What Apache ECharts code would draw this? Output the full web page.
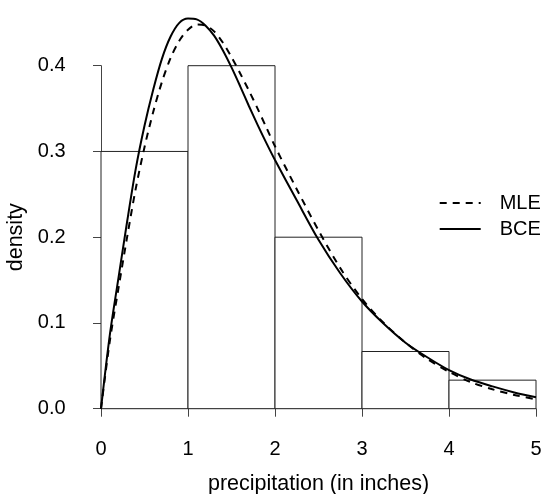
<!DOCTYPE html>
<html>
<head>
<meta charset="utf-8">
<script src="https://cdn.jsdelivr.net/npm/echarts@6/dist/echarts.min.js"></script>
<style>
html,body{margin:0;padding:0;background:#fff;}
#chart{width:544px;height:494px;}
</style>
</head>
<body>
<div id="chart"></div>
<script>
// Histogram bins (left edge, right edge, density)
const binStarts = [0, 1, 2, 3, 4];
const binEnds = [1, 2, 3, 4, 5];
const binDensity = [0.3, 0.4, 0.2, 0.0667, 0.0333];

// Curve sample positions and values
const curveX = [0, 0.1, 0.2, 0.3, 0.4, 0.5, 0.6, 0.7, 0.8, 0.9, 1.0, 1.1, 1.2, 1.3, 1.4, 1.5, 1.6, 1.7, 1.8, 1.9, 2.0, 2.25, 2.5, 2.75, 3.0, 3.25, 3.5, 3.75, 4.0, 4.25, 4.5, 4.75, 5.0];
const mleY = [0, 0.078, 0.140, 0.200, 0.257, 0.305, 0.346, 0.381, 0.409, 0.429, 0.442, 0.448, 0.447, 0.440, 0.427, 0.410, 0.391, 0.371, 0.350, 0.328, 0.306, 0.256, 0.208, 0.164, 0.128, 0.100, 0.077, 0.058, 0.043, 0.031, 0.0226, 0.016, 0.011];
const bceY = [0, 0.085, 0.152, 0.218, 0.280, 0.330, 0.372, 0.408, 0.434, 0.450, 0.455, 0.454, 0.447, 0.435, 0.418, 0.398, 0.376, 0.353, 0.331, 0.310, 0.290, 0.243, 0.197, 0.158, 0.125, 0.099, 0.077, 0.060, 0.045, 0.034, 0.026, 0.019, 0.0133];

const xTicks = ['0', '1', '2', '3', '4', '5'];
const yTicks = ['0.0', '0.1', '0.2', '0.3', '0.4'];

const FONT = 'Liberation Sans, Arial, Helvetica, sans-serif';
const histData = binStarts.map((s, i) => [s, binEnds[i], binDensity[i]]);
const mleData = curveX.map((x, i) => [x, mleY[i]]);
const bceData = curveX.map((x, i) => [x, bceY[i]]);

const chart = echarts.init(document.getElementById('chart'), null, {renderer: 'canvas'});
chart.setOption({
  animation: false,
  backgroundColor: '#fff',
  color: ['#000', '#000', '#000'],
  grid: {left: 101, right: 8, top: 65.7, bottom: 85.3, containLabel: false, outerBoundsMode: 'none'},
  legend: {
    orient: 'vertical',
    left: 438.7,
    top: 193,
    padding: 0,
    itemWidth: 41,
    itemHeight: 14,
    itemGap: 6,
    data: ['MLE', 'BCE'],
    itemStyle: {opacity: 0},
    textStyle: {fontFamily: FONT, fontSize: 20, lineHeight: 20, color: '#000', padding: [0, 0, 0, 14]}
  },
  xAxis: {
    type: 'value', min: 0, max: 5, interval: 1,
    offset: 15,
    name: 'precipitation (in inches)',
    nameLocation: 'middle', nameGap: 49,
    nameTextStyle: {fontFamily: FONT, fontSize: 21.5, color: '#000'},
    axisLine: {show: true, lineStyle: {color: '#444', width: 1}},
    axisTick: {show: true, length: 8, lineStyle: {color: '#444'}},
    axisLabel: {fontFamily: FONT, fontSize: 20, color: '#000', margin: 16,
      formatter: (v) => xTicks[Math.round(v)]},
    splitLine: {show: false}
  },
  yAxis: {
    type: 'value', min: 0, max: 0.4, interval: 0.1,
    offset: 17.4,
    name: 'density',
    nameLocation: 'middle', nameGap: 56,
    nameTextStyle: {fontFamily: FONT, fontSize: 21.5, color: '#000'},
    axisLine: {show: true, lineStyle: {color: '#444', width: 1}},
    axisTick: {show: true, length: 8, lineStyle: {color: '#444'}},
    axisLabel: {fontFamily: FONT, fontSize: 20, color: '#000', margin: 18,
      formatter: (v) => yTicks[Math.round(v * 10)]},
    splitLine: {show: false}
  },
  series: [
    {
      type: 'custom',
      name: 'hist',
      data: histData,
      encode: {x: [0, 1], y: 2},
      clip: false,
      renderItem: function (params, api) {
        const p0 = api.coord([api.value(0), api.value(2)]);
        const p1 = api.coord([api.value(1), 0]);
        return {
          type: 'rect',
          shape: {x: p0[0], y: p0[1], width: p1[0] - p0[0], height: p1[1] - p0[1]},
          style: {fill: '#fff', stroke: '#222', lineWidth: 1}
        };
      },
      z: 1
    },
    {
      type: 'line', name: 'MLE', data: mleData, smooth: 0.3, clip: false,
      showSymbol: false, symbol: 'none',
      itemStyle: {color: '#000'},
      lineStyle: {color: '#000', width: 2, type: [7, 6]}, z: 3
    },
    {
      type: 'line', name: 'BCE', data: bceData, smooth: 0.3, clip: false,
      showSymbol: false, symbol: 'none',
      itemStyle: {color: '#000'},
      lineStyle: {color: '#000', width: 2, type: 'solid'}, z: 4
    }
  ]
});
</script>
</body>
</html>
